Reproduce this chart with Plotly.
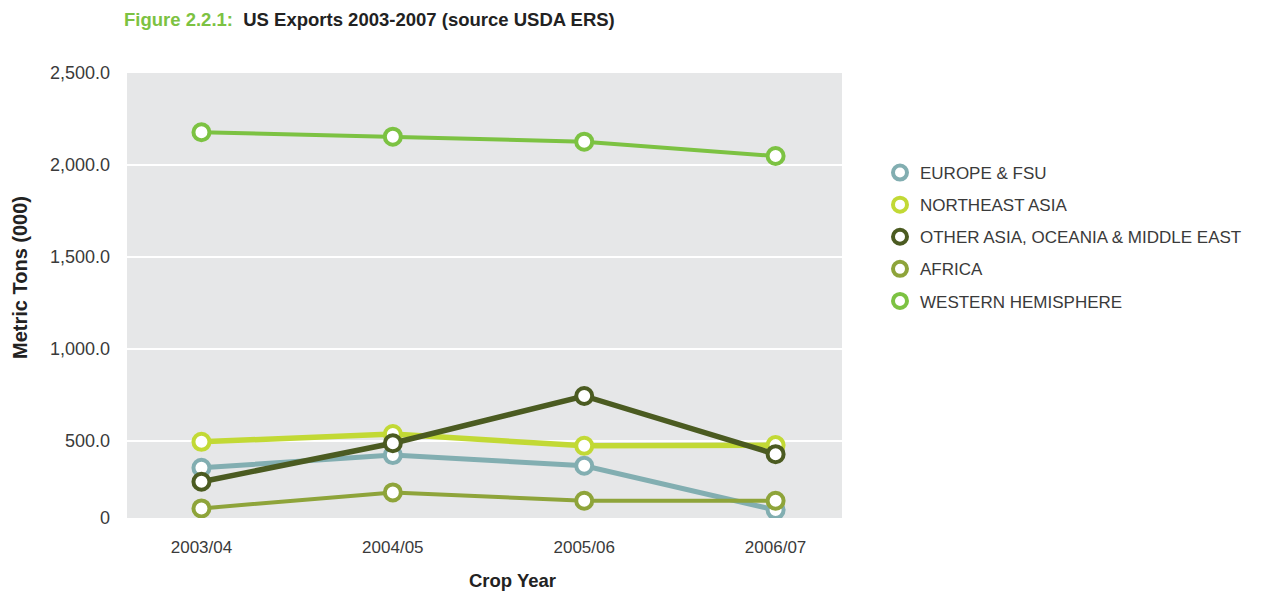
import plotly.graph_objects as go

crop_years = ["2003/04", "2004/05", "2005/06", "2006/07"]

series_names = [
    "EUROPE & FSU",
    "NORTHEAST ASIA",
    "OTHER ASIA, OCEANIA & MIDDLE EAST",
    "AFRICA",
    "WESTERN HEMISPHERE",
]

europe_fsu = [355, 424, 366, 125]
northeast_asia = [496, 538, 474, 478]
other_asia = [279, 488, 745, 429]
africa = [134, 221, 176, 176]
western_hemisphere = [2178, 2154, 2127, 2049]

series_values = [europe_fsu, northeast_asia, other_asia, africa, western_hemisphere]
series_colors = ["#82aeb1", "#c2d935", "#4b5b21", "#8ea43a", "#7cc242"]
line_widths = [5, 5.5, 5.5, 4, 4]

y_tick_vals = [82, 500, 1000, 1500, 2000, 2500]
y_tick_text = ["0", "500.0", "1,000.0", "1,500.0", "2,000.0", "2,500.0"]

x_title = "Crop Year"
y_title = "Metric Tons (000)"

FONT = "Liberation Sans, Arial, Helvetica, sans-serif"
TXT = "#3a3a3a"

# page body has an 8px margin, so the figure is offset by 8px
OFF = 8
W, H = 1261 - OFF, 596 - OFF

fig = go.Figure()

for name, vals, col, lw in zip(series_names, series_values, series_colors, line_widths):
    fig.add_trace(go.Scatter(
        x=crop_years, y=vals, name=name, mode="lines+markers",
        line=dict(color=col, width=lw),
        marker=dict(size=16, color="white", line=dict(color=col, width=4)),
        showlegend=False, hoverinfo="x+y+name",
    ))

for i, (name, col) in enumerate(zip(series_names, series_colors)):
    fig.add_trace(go.Scatter(
        x=[None], y=[None], name=name, mode="markers",
        marker=dict(size=14, color="white", line=dict(color=col, width=4)),
        legendgroup=f"g{i}", showlegend=True,
    ))

fig.update_layout(
    width=W, height=H,
    margin=dict(l=127 - OFF, r=1261 - 842, t=73 - OFF, b=596 - 518),
    paper_bgcolor="white",
    plot_bgcolor="#e6e7e8",
    font=dict(family=FONT, size=17, color=TXT),
    title=dict(
        text="<b><span style='color:#7cc242'>Figure 2.2.1:</span>\u00a0\u00a0US Exports 2003-2007 (source USDA ERS)</b>",
        x=(124 - OFF) / W, xanchor="left", xref="container",
        y=1 - (20 - OFF) / H, yanchor="middle", yref="container",
        font=dict(family=FONT, size=18.5, color="#222222"),
    ),
    xaxis=dict(
        type="category",
        range=[-0.389, 3.347],
        showgrid=False, zeroline=False, showline=False,
        ticks="", ticklabelstandoff=17,
        tickfont=dict(size=17, color=TXT),
    ),
    yaxis=dict(
        range=[82, 2500],
        tickvals=y_tick_vals, ticktext=y_tick_text,
        showgrid=True, gridcolor="white", gridwidth=1.5,
        zeroline=False, showline=False,
        ticks="", ticklabelstandoff=16,
        tickfont=dict(size=18, color=TXT),
    ),
    legend=dict(
        x=(880 - 127) / 715, xanchor="left",
        y=(518 - 155) / 445, yanchor="top",
        font=dict(size=17, color=TXT),
        tracegroupgap=7,
        bgcolor="rgba(0,0,0,0)",
        itemsizing="trace",
    ),
    annotations=[
        dict(text=f"<b>{x_title}</b>", xref="paper", yref="paper",
             x=(512 - 127) / 715, y=(518 - 580) / 445,
             xanchor="center", yanchor="middle", showarrow=False,
             font=dict(family=FONT, size=18.5, color="#222222")),
        dict(text=f"<b>{y_title}</b>", xref="paper", yref="paper",
             x=(20 - 127) / 715, y=(518 - 278) / 445, textangle=-90,
             xanchor="center", yanchor="middle", showarrow=False,
             font=dict(family=FONT, size=20, color="#222222")),
    ],
)

fig.write_html("out.html")
